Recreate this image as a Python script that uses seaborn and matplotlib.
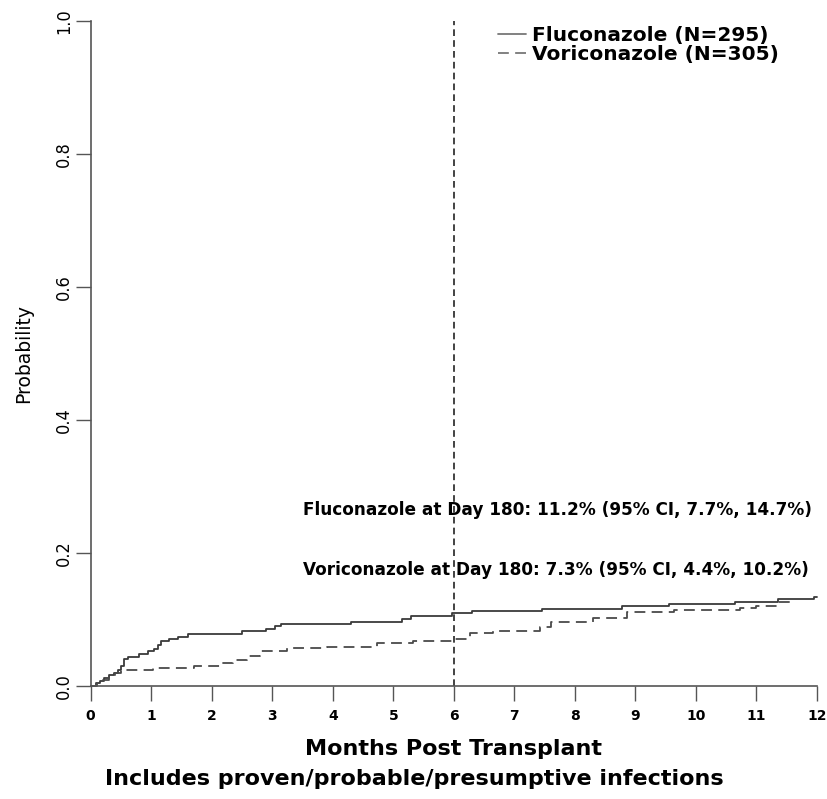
import numpy as np
import pandas as pd
import matplotlib
matplotlib.use("Agg")
import matplotlib.pyplot as plt
import seaborn as sns

# ---- data ----
flu_label = "Fluconazole (N=295)"
vor_label = "Voriconazole (N=305)"

flu_months = [0, 0.08, 0.15, 0.22, 0.30, 0.38, 0.45, 0.50, 0.55, 0.62, 0.80, 0.95, 1.05,
              1.12, 1.17, 1.30, 1.45, 1.60, 2.50, 2.90, 3.05, 3.15, 4.30, 5.15, 5.30,
              5.97, 6.30, 7.45, 8.78, 9.55, 10.65, 11.35, 11.95, 12.0]
flu_prob = [0, 0.004, 0.008, 0.012, 0.017, 0.020, 0.024, 0.030, 0.040, 0.044, 0.048, 0.052,
            0.056, 0.061, 0.068, 0.071, 0.074, 0.078, 0.082, 0.086, 0.090, 0.094, 0.097,
            0.101, 0.106, 0.110, 0.113, 0.116, 0.120, 0.123, 0.126, 0.131, 0.134, 0.134]

vor_months = [0, 0.10, 0.20, 0.30, 0.40, 0.50, 1.03, 1.70, 2.14, 2.35, 2.58, 2.80, 3.24,
              3.90, 4.73, 5.33, 5.97, 6.27, 6.65, 7.43, 7.60, 8.30, 8.86, 9.63, 10.73,
              11.00, 11.34, 11.60]
vor_prob = [0, 0.004, 0.009, 0.014, 0.019, 0.024, 0.027, 0.030, 0.034, 0.039, 0.045, 0.053,
            0.057, 0.059, 0.064, 0.067, 0.070, 0.079, 0.083, 0.089, 0.096, 0.103, 0.111,
            0.114, 0.118, 0.120, 0.126, 0.126]

x_ticks = list(range(0, 13))
y_ticks = [0.0, 0.2, 0.4, 0.6, 0.8, 1.0]
y_tick_labels = ["0.0", "0.2", "0.4", "0.6", "0.8", "1.0"]

cut_month = 6
flu_note = "Fluconazole at Day 180: 11.2% (95% CI, 7.7%, 14.7%)"
vor_note = "Voriconazole at Day 180: 7.3% (95% CI, 4.4%, 10.2%)"
x_title = "Months Post Transplant"
y_title = "Probability"
subtitle = "Includes proven/probable/presumptive infections"

df = pd.DataFrame({
    "month": flu_months + vor_months,
    "prob": flu_prob + vor_prob,
    "arm": [flu_label] * len(flu_months) + [vor_label] * len(vor_months),
})

# ---- styling ----
sns.set_style("white")
plt.rcParams["font.family"] = ["DejaVu Sans"]
plt.rcParams["text.color"] = "black"
plt.rcParams["axes.labelcolor"] = "black"
plt.rcParams["xtick.labelcolor"] = "black"
plt.rcParams["ytick.labelcolor"] = "black"

line_col = "#3a3a3a"
axis_col = "#555555"

fig = plt.figure(figsize=(8.28, 7.99), dpi=100)
ax = fig.add_axes([0.1095, 0.1414, 0.8772, 0.8323])

sns.lineplot(data=df, x="month", y="prob", hue="arm", style="arm",
             palette={flu_label: line_col, vor_label: "#4a4a4a"},
             dashes={flu_label: "", vor_label: (6, 3.5)},
             drawstyle="steps-post", estimator=None, sort=False,
             linewidth=1.3, clip_on=False, ax=ax)

ax.axvline(cut_month, ymin=0, ymax=1, color="#222222", lw=1.2,
           dashes=(4, 2.5), clip_on=False)

ax.set_xlim(0, 12)
ax.set_ylim(0, 1)
ax.set_xticks(x_ticks)
ax.set_xticklabels([str(v) for v in x_ticks], fontsize=10, fontweight="bold")
ax.set_yticks(y_ticks)
ax.set_yticklabels(y_tick_labels, fontsize=13, rotation=90, va="center",
                   fontstretch="condensed")

for side in ["top", "right"]:
    ax.spines[side].set_visible(False)
for side in ["left", "bottom"]:
    ax.spines[side].set_color(axis_col)
    ax.spines[side].set_linewidth(1.2)

ax.tick_params(axis="both", which="major", direction="out", length=10.5,
               width=1.0, color=axis_col, left=True, bottom=True)
ax.tick_params(axis="x", pad=6)
ax.tick_params(axis="y", pad=2)

ax.set_xlabel(x_title, fontsize=16, fontweight="bold")
ax.xaxis.set_label_coords(0.5, -0.079)
ax.set_ylabel(y_title, fontsize=13.5)
ax.yaxis.set_label_coords(-0.079, 0.5)

ax.text(3.51, 0.2647, flu_note, fontsize=12.2, fontweight="bold", va="center", ha="left")
ax.text(3.51, 0.1744, vor_note, fontsize=12.2, fontweight="bold", va="center", ha="left")

handles, labels = ax.get_legend_handles_labels()
leg = ax.legend(handles, labels, loc="upper left", bbox_to_anchor=(0.5608, 0.9925),
                frameon=False, prop={"size": 14.5, "weight": "bold"},
                handlelength=1.4, handletextpad=0.3, labelspacing=0.0,
                borderpad=0, borderaxespad=0)
for h in leg.get_lines():
    h.set_color("#777777")
    h.set_linewidth(1.3)

fig.text(0.5, 1 - 779 / 799, subtitle, ha="center", va="center",
         fontsize=16, fontweight="bold")

fig.savefig("out.png", dpi=100)
